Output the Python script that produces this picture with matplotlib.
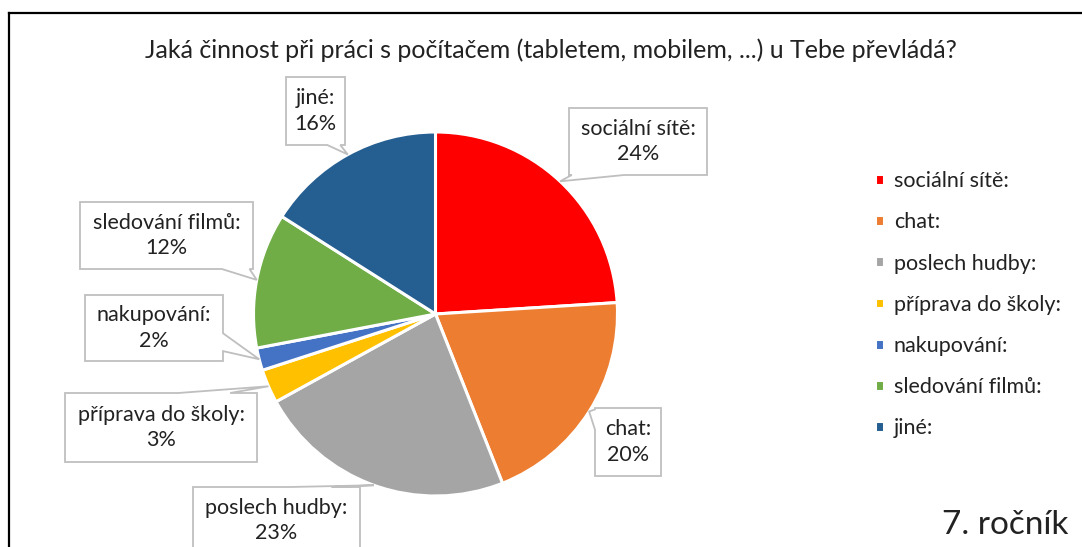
import matplotlib.pyplot as plt
from matplotlib.patches import Polygon
from matplotlib.lines import Line2D
import numpy as np

plt.rcParams['font.family'] = ['Lato', 'DejaVu Sans']

# odpovědi 7. ročníku (v %)
categories = ["sociální sítě:", "chat:", "poslech hudby:", "příprava do školy:",
              "nakupování:", "sledování filmů:", "jiné:"]
shares = [24, 20, 23, 3, 2, 12, 16]
colors = ["#FF0000", "#ED7D31", "#A5A5A5", "#FFC000", "#4472C4", "#70AD47", "#255E91"]

title = "Jaká činnost při práci s počítačem (tabletem, mobilem, ...) u Tebe převládá?"
grade = "7. ročník"

W, H = 1082, 547
fig = plt.figure(figsize=(W / 100, H / 100), dpi=100)
ax = fig.add_axes([0, 0, 1, 1])

# pracujeme v pixelech, y měřené shora
def up(y):
    return H - y

cx, cy, r = 435.5, up(314), 182
wedges, _ = ax.pie(shares, colors=colors, startangle=90, counterclock=False,
                   center=(cx, cy), radius=r,
                   wedgeprops=dict(edgecolor="white", linewidth=2.2))
ax.set_xlim(0, W)
ax.set_ylim(0, H)
ax.set_aspect("equal")
ax.axis("off")

# rámeček – vlevo a nahoře
fig.add_artist(Line2D([9 / W, 9 / W], [0, up(13) / H], color="black", lw=1.6))
fig.add_artist(Line2D([9 / W, 1], [up(13) / H, up(13) / H], color="black", lw=1.6))

ax.text(551, up(50), title, ha="center", va="center", fontsize=18, color="#222222")

# popisky: box (x0, x1, y_horni, y_dolni), strana s ocáskem, úsek strany
callouts = {
    "sociální sítě:": ((569, 707, 108, 175), "bottom", (0.02, 0.40)),
    "chat:": ((595, 661, 408, 476), "left", (0.02, 0.32)),
    "poslech hudby:": ((193, 360, 487, 554), "top", (0.17, 0.42)),
    "příprava do školy:": ((65, 257, 393, 462), "top", (0.14, 0.41)),
    "nakupování:": ((85, 223, 295, 361), "right", (0.15, 0.42)),
    "sledování filmů:": ((80, 253, 202, 269), "bottom", (0.82, 0.98)),
    "jiné:": ((286, 345, 77, 145), "bottom", (0.70, 0.92)),
}

def callout_path(x0, x1, yb, yt, side, t, tip):
    corners = [(x0, yb), (x1, yb), (x1, yt), (x0, yt)]
    edges = {"bottom": 0, "right": 1, "top": 2, "left": 3}
    k = edges[side]
    pts = []
    for i in range(4):
        a = np.array(corners[i])
        b = np.array(corners[(i + 1) % 4])
        pts.append(tuple(a))
        if i == k:
            pts.append(tuple(a + (b - a) * t[0]))
            pts.append(tip)
            pts.append(tuple(a + (b - a) * t[1]))
    return pts

cum = 0
for name, v in zip(categories, shares):
    theta = np.deg2rad(90 - 360 * (cum + v / 2) / 100)
    cum += v
    tip = (cx + r * np.cos(theta), cy + r * np.sin(theta))
    (x0, x1, yt, yb), side, t = callouts[name]
    pts = callout_path(x0, x1, up(yb), up(yt), side, t, tip)
    ax.add_patch(Polygon(pts, closed=True, facecolor="white", edgecolor="#BFBFBF",
                         lw=1.3, zorder=3, clip_on=False))
    ax.text((x0 + x1) / 2, up((yt + yb) / 2), f"{name}\n{v}%", ha="center",
            va="center", fontsize=15.5, linespacing=1.35, color="#222222", zorder=4)

leg = ax.legend(wedges, categories, loc="upper left",
                bbox_to_anchor=(856 / W, up(152) / H), frameon=False,
                fontsize=15.5, handlelength=0.4, handleheight=0.4,
                handletextpad=0.45, labelspacing=0.98)
for txt in leg.get_texts():
    txt.set_color("#222222")

ax.text(1068, up(525), grade, ha="right", va="center", fontsize=24, color="#222222")

fig.savefig("out.png", dpi=100)
